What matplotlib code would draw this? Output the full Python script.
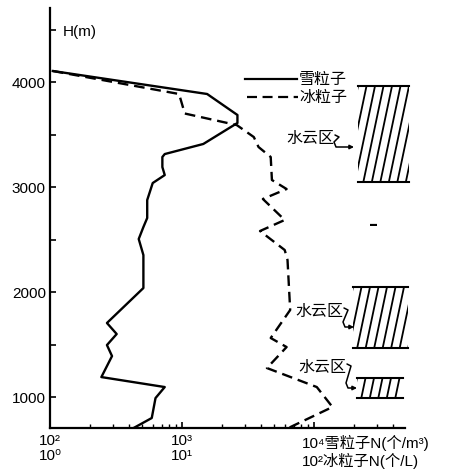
import matplotlib.pyplot as plt
import numpy as np
from matplotlib.patches import Rectangle, FancyArrowPatch
from matplotlib.path import Path

plt.rcParams['font.family'] = ['Liberation Sans', 'DejaVu Sans', 'Noto Sans CJK SC']

# snow particles, N (个/m^3)
snow_h = [4105, 3886, 3686, 3610, 3410, 3314, 3286, 3190, 3114, 3038, 2876, 2705,
          2619, 2505, 2352, 2038, 1705, 1600, 1495, 1390, 1190, 1095, 990, 800, 705]
snow_n = [105, 1550, 2630, 2630, 1450, 740, 710, 710, 740, 600, 545, 545,
          510, 470, 510, 510, 270, 320, 270, 295, 245, 740, 630, 590, 430]
# ice particles, N (个/L)
ice_h = [4105, 3886, 3700, 3590, 3476, 3381, 3286, 3067, 2981, 2886, 2686, 2581,
         2400, 2305, 1829, 1562, 1476, 1276, 1095, 905, 705]
ice_n = [1.05, 9.5, 10.5, 26, 35, 38, 47, 48, 62, 41, 60, 39,
         60, 63, 66, 47, 62, 44, 105, 138, 64]

# water cloud layers (m)
cloud_bot = [3048, 1467, 990]
cloud_top = [3962, 2048, 1181]

W, H = 452, 475
X0, X1, Y0, Y1 = 50, 405, 428, 8   # axes box in pixels


def fr(x, y):
    # pixel (from top-left) -> axes fraction
    return (x - X0) / (X1 - X0), (Y0 - y) / (Y0 - Y1)


fig = plt.figure(figsize=(W / 100, H / 100), dpi=100)
ax = fig.add_axes([X0 / W, (H - Y0) / H, (X1 - X0) / W, (Y0 - Y1) / H])

ax.plot(np.array(snow_n) / 100.0, snow_h, color='black', lw=1.7)
ax.plot(ice_n, ice_h, color='black', lw=1.7, ls=(0, (4.5, 2.5)))

ax.set_xscale('log')
ax.set_xlim(1, 10 ** (355 / 132))
ax.set_ylim(705, 4705)

for s in ['top', 'right']:
    ax.spines[s].set_visible(False)
ax.spines['left'].set_linewidth(1.6)
ax.spines['bottom'].set_linewidth(1.6)

ax.set_yticks([1000, 2000, 3000, 4000])
ax.set_yticks([1500, 2500, 3500, 4500], minor=True)
ax.tick_params(axis='y', which='both', direction='in', length=4, width=1.2,
               labelsize=11, pad=3)
ax.set_xticks([1, 10, 100])
ax.set_xticklabels(['10²\n10⁰', '10³\n10¹', ''], linespacing=1.15)
ax.tick_params(axis='x', which='major', direction='in', length=4, width=1.2,
               labelsize=11, pad=4)
ax.tick_params(axis='x', which='minor', direction='in', length=3, width=1)

ax.text(*fr(302, 443), '10⁴雪粒子N(个/m³)', transform=ax.transAxes,
        fontsize=11, ha='left', va='center', clip_on=False)
ax.text(*fr(302, 461), '10²冰粒子N(个/L)', transform=ax.transAxes,
        fontsize=11, ha='left', va='center', clip_on=False)
ax.text(*fr(63, 32), 'H(m)', transform=ax.transAxes, fontsize=11,
        ha='left', va='center')

# legend
ax.plot([fr(245, 0)[0], fr(297, 0)[0]], [fr(0, 79)[1]] * 2, color='black',
        lw=1.6, transform=ax.transAxes)
ax.plot([fr(247, 0)[0], fr(298, 0)[0]], [fr(0, 97)[1]] * 2, color='black',
        lw=1.6, ls=(0, (4.5, 2.5)), transform=ax.transAxes)
ax.text(*fr(299, 79), '雪粒子', transform=ax.transAxes, fontsize=11.5,
        ha='left', va='center')
ax.text(*fr(299, 97), '冰粒子', transform=ax.transAxes, fontsize=11.5,
        ha='left', va='center')

# hatched water cloud boxes
box_x = [(358, 409), (353, 408), (357, 403)]
label_xy = [(310, 138), (319, 311), (322, 367)]
tips = [(354, 147), (354, 327), (357, 388)]
fig.canvas.draw()
for (xa, xb), hb, ht, (lx, ly), (tx, ty) in zip(box_x, cloud_bot, cloud_top,
                                                 label_xy, tips):
    fa = fr(xa, 0)[0]
    fb = fr(xb, 0)[0]
    yb = ax.transData.transform((1, hb))[1]
    yt = ax.transData.transform((1, ht))[1]
    yb_f = ax.transAxes.inverted().transform((0, yb))[1]
    yt_f = ax.transAxes.inverted().transform((0, yt))[1]
    for yy in (yb_f, yt_f):
        ax.plot([fa, fb], [yy, yy], color='black', lw=1.5,
                transform=ax.transAxes, clip_on=False)
    rect = Rectangle((fa, yb_f), fb - fa, yt_f - yb_f, transform=ax.transAxes,
                     fill=False, lw=0, clip_on=False)
    ax.add_patch(rect)
    hpx = yt - yb
    slope = 0.21
    xs = np.arange(xa - slope * hpx, xb + 2, 8.5)
    for x in xs:
        ln, = ax.plot([fr(x, 0)[0], fr(x + slope * hpx, 0)[0]], [yb_f, yt_f],
                      color='black', lw=1.3, transform=ax.transAxes)
        ln.set_clip_path(rect)
    ax.text(*fr(lx, ly), '水云区', transform=ax.transAxes, fontsize=11.5,
            ha='center', va='center', clip_on=False)
    ex = lx + 25
    verts = [fr(ex, ly - 3), fr(ex + 4, ly - 1), fr(ex - 1, ty - 5),
             fr(ex + 1, ty), fr(tx, ty)]
    codes = [Path.MOVETO] + [Path.LINETO] * 4
    arr = FancyArrowPatch(path=Path(verts, codes), arrowstyle='-|>',
                          mutation_scale=6, color='black', lw=1.1,
                          transform=ax.transAxes, clip_on=False)
    ax.add_patch(arr)

ax.text(*fr(373, 225), '▬', transform=ax.transAxes, fontsize=5,
        ha='center', va='center')

fig.savefig('out.png', dpi=100)
